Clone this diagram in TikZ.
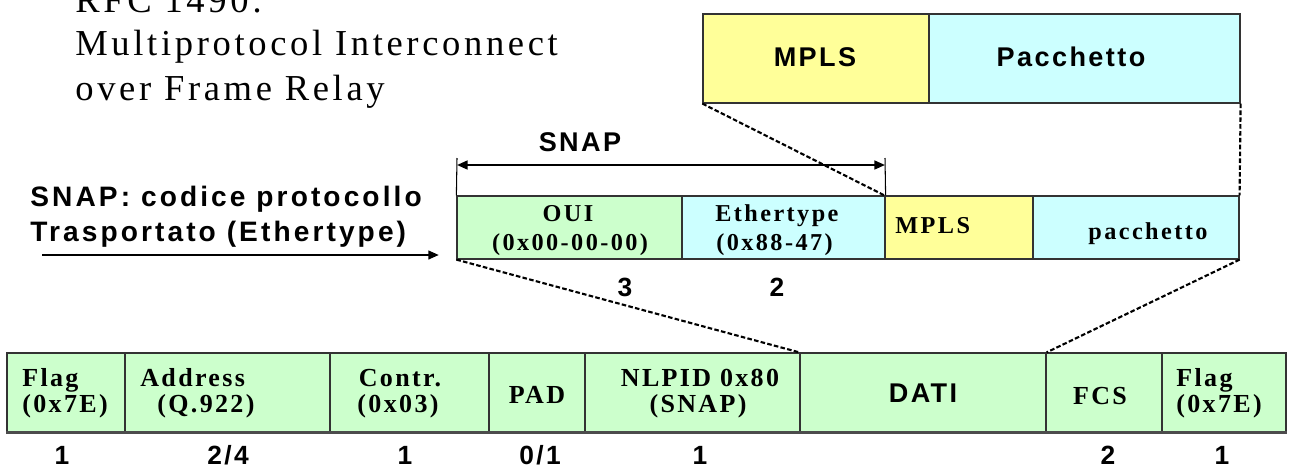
\documentclass[tikz,border=0pt]{standalone}
\usepackage{fontspec}
\usetikzlibrary{fit,arrows.meta}
\newfontfamily\ttlfont[LetterSpace=10]{Liberation Serif}
\newfontfamily\srbfont[LetterSpace=9]{Liberation Serif}
\newfontfamily\srmfont[LetterSpace=10]{Liberation Serif}
\newfontfamily\snbfont[LetterSpace=9]{Liberation Sans}
\newfontfamily\snlfont[LetterSpace=11]{Liberation Sans}
\definecolor{cgreen}{HTML}{CCFFCC}
\definecolor{cyell}{HTML}{FFFF99}
\definecolor{ccyan}{HTML}{CCFFFF}
\definecolor{cline}{HTML}{333333}
\tikzset{
  cellbox/.style={draw=cline, line width=0.7pt, inner sep=0pt},
  gcell/.style={cellbox, fill=cgreen},
  ycell/.style={cellbox, fill=cyell},
  ccell/.style={cellbox, fill=ccyan},
  dashline/.style={line width=1.2pt, dash pattern=on 2.6pt off 1.3pt},
  arrline/.style={line width=1.1pt},
  tickline/.style={line width=0.6pt},
  serb/.style={font=\srbfont\bfseries\fontsize{14.8}{14.8}\selectfont, inner sep=0pt},
  sermid/.style={font=\srmfont\bfseries\fontsize{13.8}{13.8}\selectfont, inner sep=0pt},
  sansb/.style={font=\snbfont\bfseries\fontsize{15.4}{15.4}\selectfont, inner sep=0pt},
  leftb/.style={font=\snlfont\bfseries\fontsize{16}{16}\selectfont, inner sep=0pt, anchor=base west},
  numb/.style={font=\snbfont\bfseries\fontsize{15}{15}\selectfont, inner sep=0pt},
  ttl/.style={font=\ttlfont\fontsize{20.8}{20.8}\selectfont, inner sep=0pt, anchor=base west},
}
\begin{document}
\begin{tikzpicture}[x=0.02cm, y=-0.02cm]
\useasboundingbox (0,0) rectangle (1292,471);
% title
\node[ttl] (t1) at (75,12) {RFC 1490:};
\node[ttl] (t2) at (75,55) {Multiprotocol Interconnect};
\node[ttl] (t3) at (75,100) {over Frame Relay};
% top row
\node[ycell, fit={(703,14) (929,103)}] (tmpls) {};
\node[ccell, fit={(929,14) (1240,103)}] (tpack) {};
\node[sansb] (tmplsl) at (815,57) {MPLS};
\node[sansb] (tpackl) at (1071,57) {Pacchetto};
% middle row
\node[gcell, fit={(457,196) (682,259)}] (oui) {};
\node[ccell, fit={(682,196) (885,259)}] (eth) {};
\node[ycell, fit={(885,196) (1033,259)}] (mmpls) {};
\node[ccell, fit={(1033,196) (1239,259)}] (mpack) {};
\node[sermid, anchor=base] (ouil1) at (568,221) {OUI};
\node[sermid, anchor=base] (ouil2) at (570,250) {(0x00-00-00)};
\node[sermid, anchor=base west] (ethl1) at (715,221) {Ethertype};
\node[sermid, anchor=base west] (ethl2) at (716,250) {(0x88-47)};
\node[sermid, anchor=base west] (mmplsl) at (895,233) {MPLS};
\node[sermid, anchor=base west] (mpackl) at (1088,239) {pacchetto};
\node[numb] (n3) at (625,287) {3};
\node[numb] (n2) at (777,287) {2};
% SNAP bracket
\coordinate (sl) at (457,158);
\coordinate (sr) at (885,158);
\draw[tickline] (sl) -- (oui.north west);
\draw[tickline] (sr) -- (eth.north east);
\draw[arrline, {Triangle[length=6pt,width=5pt]}-{Triangle[length=6pt,width=5pt]}] (457,165) coordinate (sal) -- (885,165) coordinate (sar);
\node[sansb] (snapl) at (580,142) {SNAP};
% left labels
\node[leftb] (l1) at (30,206) {SNAP: codice protocollo};
\node[leftb] (l2) at (30,241) {Trasportato (Ethertype)};
\coordinate (la) at (42,255);
\draw[arrline, -{Triangle[length=6pt,width=5pt]}] (la) -- ([xshift=-10]oui.south west |- la);
% bottom row
\node[gcell, fit={(7,353) (125,432)}] (flag1) {};
\node[gcell, fit={(125,353) (330,432)}] (addr) {};
\node[gcell, fit={(330,353) (489,432)}] (contr) {};
\node[gcell, fit={(489,353) (585,432)}] (pad) {};
\node[gcell, fit={(585,353) (800,432)}] (nlpid) {};
\node[gcell, fit={(800,353) (1046,432)}] (dati) {};
\node[gcell, fit={(1046,353) (1162,432)}] (fcs) {};
\node[gcell, fit={(1162,353) (1286,432)}] (flag2) {};
\draw[line width=1.3pt, draw=black!70] (flag1.south west) -- (flag2.south east);
\node[serb, anchor=base west] at (22,386) {Flag};
\node[serb, anchor=base west] at (22,412) {(0x7E)};
\node[serb, anchor=base west] at (140,386) {Address};
\node[serb, anchor=base west] at (157,412) {(Q.922)};
\node[serb, anchor=base] at (400,386) {Contr.};
\node[serb, anchor=base] at (398,412) {(0x03)};
\node[serb, anchor=base] at (537,403) {PAD};
\node[serb, anchor=base] at (700,386) {NLPID 0x80};
\node[serb, anchor=base] at (698,412) {(SNAP)};
\node[sansb, anchor=base] at (923,402) {DATI};
\node[serb, anchor=base] at (1100,404) {FCS};
\node[serb, anchor=base west] at (1176,386) {Flag};
\node[serb, anchor=base west] at (1176,412) {(0x7E)};
\node[numb] at (62,455) {1};
\node[numb] at (228,455) {2/4};
\node[numb] at (405,455) {1};
\node[numb] at (540,455) {0/1};
\node[numb] at (700,455) {1};
\node[numb] at (1108,455) {2};
\node[numb] at (1222,455) {1};
% dashed connectors
\draw[dashline] (tmpls.south west) -- (mmpls.north west);
\draw[dashline] (tpack.south east) -- (mpack.north east);
\draw[dashline] (oui.south west) -- (dati.north west);
\draw[dashline] (mpack.south east) -- (dati.north east);
\end{tikzpicture}
\end{document}
